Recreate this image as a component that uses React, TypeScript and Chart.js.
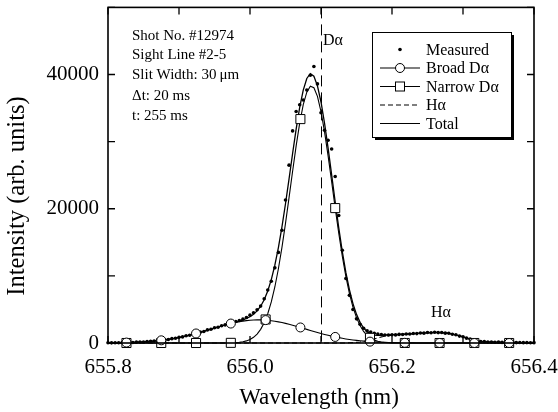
import React, { useEffect, useRef } from "react";
import { Chart, registerables } from "chart.js";

Chart.register(...registerables);

// ---------------- data ----------------
const wavelength = [
  655.800, 655.805, 655.810, 655.815, 655.820, 655.825, 655.830, 655.835, 655.840, 655.845,
  655.850, 655.855, 655.860, 655.865, 655.870, 655.875, 655.880, 655.885, 655.890, 655.895,
  655.900, 655.905, 655.910, 655.915, 655.920, 655.925, 655.930, 655.935, 655.940, 655.945,
  655.950, 655.955, 655.960, 655.965, 655.970, 655.975, 655.980, 655.985, 655.990, 655.995,
  656.000, 656.005, 656.010, 656.015, 656.020, 656.025, 656.030, 656.035, 656.040, 656.045,
  656.050, 656.055, 656.060, 656.065, 656.070, 656.075, 656.080, 656.085, 656.090, 656.095,
  656.100, 656.105, 656.110, 656.115, 656.120, 656.125, 656.130, 656.135, 656.140, 656.145,
  656.150, 656.155, 656.160, 656.165, 656.170, 656.175, 656.180, 656.185, 656.190, 656.195,
  656.200, 656.205, 656.210, 656.215, 656.220, 656.225, 656.230, 656.235, 656.240, 656.245,
  656.250, 656.255, 656.260, 656.265, 656.270, 656.275, 656.280, 656.285, 656.290, 656.295,
  656.300, 656.305, 656.310, 656.315, 656.320, 656.325, 656.330, 656.335, 656.340, 656.345,
  656.350, 656.355, 656.360, 656.365, 656.370, 656.375, 656.380, 656.385, 656.390, 656.395,
  656.400,
];

const measured = [
  30, 20, 45, 35, 60, 55, 90, 85, 130, 150,
  160, 220, 250, 300, 330, 420, 480, 530, 650, 700,
  840, 910, 1080, 1150, 1340, 1430, 1620, 1720, 1950, 2040,
  2270, 2350, 2580, 2700, 2880, 3000, 3200, 3350, 3550, 3800,
  4150, 4500, 4950, 5500, 6600, 7900, 9200, 11200, 13500, 16800,
  21300, 26500, 31600, 34500, 35500, 36200, 37700, 39900, 41200, 38600,
  34300, 31700, 30200, 28900, 24800, 19000, 13800, 9600, 7100, 5000,
  3600, 2800, 2200, 1800, 1650, 1450, 1330, 1250, 1180, 1200,
  1230, 1210, 1280, 1260, 1350, 1330, 1420, 1400, 1480, 1470,
  1560, 1530, 1600, 1550, 1560, 1470, 1450, 1300, 1220, 1030,
  940, 720, 600, 420, 350, 230, 210, 150, 160, 110,
  130, 90, 110, 70, 90, 60, 70, 50, 60, 40,
  50,
];

const broadDa = [
  20, 25, 32, 40, 50, 62, 77, 95, 116, 140,
  170, 204, 243, 289, 341, 400, 467, 542, 625, 717,
  818, 927, 1045, 1172, 1306, 1447, 1595, 1747, 1903, 2061,
  2219, 2376, 2530, 2677, 2818, 2948, 3067, 3173, 3263, 3338,
  3393, 3431, 3448, 3447, 3425, 3384, 3324, 3247, 3153, 3045,
  2923, 2790, 2648, 2499, 2345, 2188, 2029, 1871, 1716, 1565,
  1418, 1278, 1146, 1021, 904, 797, 698, 608, 526, 453,
  388, 330, 279, 235, 197, 163, 135, 111, 91, 74,
  60, 48, 38, 30, 24, 19, 15, 11, 9, 7,
  5, 4, 3, 2, 1, 1, 1, 0, 0, 0,
  0, 0, 0, 0, 0, 0, 0, 0, 0, 0,
  0, 0, 0, 0, 0, 0, 0, 0, 0, 0,
  0,
];

const narrowDa = [
  0, 0, 0, 0, 0, 0, 0, 0, 0, 0,
  0, 0, 0, 0, 0, 0, 0, 0, 0, 0,
  0, 0, 0, 0, 0, 0, 0, 0, 0, 0,
  1, 2, 4, 8, 15, 30, 57, 103, 182, 312,
  520, 843, 1329, 2031, 3018, 4360, 6120, 8345, 11060, 14240,
  17820, 21660, 25590, 29360, 32750, 35500, 37380, 38250, 38030, 36740,
  34490, 31460, 27890, 24020, 20100, 16350, 12920, 9910, 7400, 5360,
  3780, 2590, 1720, 1110, 697, 425, 252, 145, 81, 44,
  23, 12, 6, 3, 1, 0, 0, 0, 0, 0,
  0, 0, 0, 0, 0, 0, 0, 0, 0, 0,
  0, 0, 0, 0, 0, 0, 0, 0, 0, 0,
  0, 0, 0, 0, 0, 0, 0, 0, 0, 0,
  0,
];

const hAlpha = [
  0, 0, 0, 0, 0, 0, 0, 0, 0, 0,
  0, 0, 0, 0, 0, 0, 0, 0, 0, 0,
  0, 0, 0, 0, 0, 0, 0, 0, 0, 0,
  0, 0, 0, 0, 0, 0, 0, 0, 0, 0,
  0, 0, 0, 0, 0, 0, 0, 0, 0, 0,
  0, 0, 0, 0, 0, 0, 0, 0, 0, 0,
  0, 0, 0, 0, 0, 0, 0, 0, 30, 60,
  100, 160, 240, 340, 460, 600, 750, 900, 1020, 1100,
  1160, 1200, 1235, 1270, 1305, 1340, 1380, 1415, 1450, 1490,
  1530, 1555, 1570, 1565, 1540, 1495, 1430, 1330, 1200, 1060,
  920, 750, 580, 440, 330, 250, 200, 170, 150, 135,
  120, 110, 100, 90, 80, 72, 65, 58, 50, 45,
  40,
];

const total = [
  20, 25, 32, 40, 50, 62, 77, 95, 116, 140,
  170, 204, 243, 289, 341, 400, 467, 542, 625, 717,
  818, 927, 1045, 1172, 1306, 1447, 1595, 1747, 1903, 2061,
  2220, 2378, 2534, 2685, 2833, 2978, 3124, 3276, 3445, 3650,
  3913, 4274, 4777, 5478, 6443, 7744, 9444, 11592, 14213, 17285,
  20743, 24450, 28238, 31859, 35095, 37688, 39409, 40121, 39746, 38305,
  35908, 32738, 29036, 25041, 21004, 17147, 13618, 10518, 7956, 5873,
  4268, 3080, 2239, 1685, 1354, 1188, 1137, 1156, 1192, 1218,
  1243, 1260, 1279, 1303, 1329, 1359, 1395, 1426, 1459, 1497,
  1535, 1559, 1573, 1567, 1541, 1496, 1431, 1330, 1200, 1060,
  920, 750, 580, 440, 330, 250, 200, 170, 150, 135,
  120, 110, 100, 90, 80, 72, 65, 58, 50, 45,
  40,
];

const markerWavelength = [655.826, 655.875, 655.924, 655.973, 656.022, 656.071, 656.120, 656.169, 656.218, 656.267, 656.316, 656.365];
const broadMarkers = [65, 400, 1418, 2897, 3411, 2314, 904, 204, 26, 2, 0, 0];
const narrowMarkers = [0, 0, 0, 23, 3510, 33360, 20100, 767, 2, 0, 0, 0];

const xTicks = [655.8, 655.9, 656.0, 656.1, 656.2, 656.3, 656.4];
const xTickLabels = ["655.8", "", "656.0", "", "656.2", "", "656.4"];
const yTicks = [0, 10000, 20000, 30000, 40000, 50000];
const yTickLabels = ["0", "", "20000", "", "40000", ""];

const dAlphaWavelength = 656.1;
const infoLines = ["Shot No. #12974", "Sight Line #2-5", "Slit Width: 30\u2009\u03bcm", "\u0394t: 20 ms", "t: 255 ms"];
const legendLabels = ["Measured", "Broad D\u03b1", "Narrow D\u03b1", "H\u03b1", "Total"];
const dAlphaLabel = "D\u03b1";
const hAlphaLabel = "H\u03b1";
const xTitle = "Wavelength (nm)";
const yTitle = "Intensity (arb. units)";

// ---------------- drawing ----------------
const FAMILY = '"Liberation Serif", "Times New Roman", Times, serif';
const font = (s: number) => `${s}px ${FAMILY}`;

const pts = (ys: number[]) => ys.map((y, i) => ({ x: wavelength[i], y }));

const decorPlugin = {
  id: "decor",
  beforeDatasetsDraw(chart: any) {
    const { ctx, chartArea: a, scales } = chart;
    const px = Math.round(scales.x.getPixelForValue(dAlphaWavelength)) + 0.5;
    ctx.save();
    ctx.strokeStyle = "#000";
    ctx.lineWidth = 1;
    ctx.setLineDash([11, 6]);
    ctx.beginPath();
    ctx.moveTo(px, a.top);
    ctx.lineTo(px, a.bottom);
    ctx.stroke();
    ctx.restore();
  },
  afterDraw(chart: any) {
    const { ctx, chartArea: a, scales } = chart;
    ctx.save();
    ctx.strokeStyle = "#000";
    ctx.fillStyle = "#000";
    // frame
    ctx.lineWidth = 1.6;
    ctx.strokeRect(a.left, a.top, a.right - a.left, a.bottom - a.top);
    // inward ticks
    ctx.lineWidth = 1.3;
    ctx.beginPath();
    xTicks.forEach((v) => {
      const p = scales.x.getPixelForValue(v);
      ctx.moveTo(p, a.bottom);
      ctx.lineTo(p, a.bottom - 7);
      ctx.moveTo(p, a.top);
      ctx.lineTo(p, a.top + 7);
    });
    yTicks.forEach((v) => {
      const p = scales.y.getPixelForValue(v);
      ctx.moveTo(a.left, p);
      ctx.lineTo(a.left + 7, p);
      ctx.moveTo(a.right, p);
      ctx.lineTo(a.right - 7, p);
    });
    ctx.stroke();

    // info text
    ctx.font = font(15);
    ctx.textAlign = "left";
    ctx.textBaseline = "alphabetic";
    const baselines = [39.5, 58.5, 78.5, 100, 119.5];
    infoLines.forEach((t, i) => ctx.fillText(t, a.left + 24, baselines[i]));

    // line labels
    ctx.font = font(16);
    ctx.fillText(dAlphaLabel, scales.x.getPixelForValue(dAlphaWavelength) + 2, 45);
    ctx.fillText(hAlphaLabel, 431, 317);

    // legend
    const L = 372, T = 32, R = 511, B = 137;
    ctx.fillRect(L + 3, T + 3, R - L, B - T);
    ctx.fillStyle = "#fff";
    ctx.fillRect(L, T, R - L, B - T);
    ctx.fillStyle = "#000";
    ctx.lineWidth = 1;
    ctx.strokeRect(L + 0.5, T + 0.5, R - L, B - T);
    const rows = [49.5, 68, 86.5, 105, 123.5];
    const x0 = 380, x1 = 420, xm = 400;
    ctx.font = font(16);
    ctx.textBaseline = "middle";
    legendLabels.forEach((t, i) => {
      const y = rows[i];
      ctx.fillStyle = "#000";
      ctx.fillText(t, 426, y + 1);
      ctx.lineWidth = 1.2;
      if (i === 0) {
        ctx.beginPath();
        ctx.arc(xm, y, 1.8, 0, Math.PI * 2);
        ctx.fill();
        return;
      }
      ctx.setLineDash(i === 3 ? [5, 3] : []);
      ctx.beginPath();
      ctx.moveTo(x0, y);
      ctx.lineTo(x1, y);
      ctx.stroke();
      ctx.setLineDash([]);
      if (i === 1) {
        ctx.beginPath();
        ctx.arc(xm, y, 4.5, 0, Math.PI * 2);
        ctx.fillStyle = "#fff";
        ctx.fill();
        ctx.lineWidth = 1;
        ctx.stroke();
      }
      if (i === 2) {
        ctx.fillStyle = "#fff";
        ctx.fillRect(xm - 4.5, y - 4.5, 9, 9);
        ctx.lineWidth = 1;
        ctx.strokeRect(xm - 4.5, y - 4.5, 9, 9);
      }
    });

    // axis titles
    ctx.fillStyle = "#000";
    ctx.textAlign = "center";
    ctx.textBaseline = "alphabetic";
    ctx.font = font(23);
    ctx.fillText(xTitle, (a.left + a.right) / 2 - 2, 404);
    ctx.save();
    ctx.font = font(24.5);
    ctx.translate(18, 196);
    ctx.rotate(-Math.PI / 2);
    ctx.textBaseline = "middle";
    ctx.fillText(yTitle, 0, 0);
    ctx.restore();

    ctx.restore();
  },
};

export default function App() {
  const ref = useRef<HTMLCanvasElement | null>(null);

  useEffect(() => {
    if (!ref.current) return;
    const lineDs = (label: string, ys: number[], dash: number[] = [], width = 1.1) => ({
      label,
      data: pts(ys),
      borderColor: "#000",
      borderWidth: width,
      borderDash: dash,
      pointRadius: 0,
      tension: 0,
      fill: false,
      clip: false,
      order: 2,
    });
    const chart = new Chart(ref.current, {
      type: "line",
      data: {
        datasets: [
          lineDs("Broad D\u03b1", broadDa),
          lineDs("Narrow D\u03b1", narrowDa),
          lineDs("H\u03b1", hAlpha, [5, 3]),
          lineDs("Total", total, [], 1.3),
          {
            label: "Measured",
            data: pts(measured),
            showLine: false,
            pointRadius: 1.8,
            pointBackgroundColor: "#000",
            pointBorderWidth: 0,
            borderColor: "#000",
            clip: false,
            order: 1,
          },
          {
            label: "Broad markers",
            data: markerWavelength.map((x, i) => ({ x, y: broadMarkers[i] })),
            showLine: false,
            pointStyle: "circle",
            pointRadius: 4.5,
            pointBackgroundColor: "#fff",
            pointBorderColor: "#000",
            pointBorderWidth: 1,
            clip: false,
            order: 0,
          },
          {
            label: "Narrow markers",
            data: markerWavelength.map((x, i) => ({ x, y: narrowMarkers[i] })),
            showLine: false,
            pointStyle: "rect",
            pointRadius: 6.4,
            pointBackgroundColor: "#fff",
            pointBorderColor: "#000",
            pointBorderWidth: 1,
            clip: false,
            order: 0,
          },
        ] as any,
      },
      options: {
        animation: false,
        responsive: false,
        events: [],
        layout: { padding: { top: 4, right: 24, left: 0, bottom: 0 } },
        plugins: { legend: { display: false }, tooltip: { enabled: false } },
        scales: {
          x: {
            type: "linear",
            min: 655.8,
            max: 656.4,
            grid: { display: false },
            border: { display: false },
            afterBuildTicks: (s: any) => {
              s.ticks = xTicks.map((v) => ({ value: v }));
            },
            afterFit: (s: any) => {
              s.height = 69;
              s.paddingLeft = 0;
              s.paddingRight = 0;
            },
            ticks: {
              autoSkip: false,
              maxRotation: 0,
              padding: 4,
              color: "#000",
              font: { family: FAMILY, size: 21 },
              callback: (_v: any, i: number) => xTickLabels[i],
            },
          },
          y: {
            type: "linear",
            min: 0,
            max: 50000,
            grid: { display: false },
            border: { display: false },
            afterBuildTicks: (s: any) => {
              s.ticks = yTicks.map((v) => ({ value: v }));
            },
            afterFit: (s: any) => {
              s.width = 108;
              s.paddingTop = 0;
              s.paddingBottom = 0;
            },
            ticks: {
              autoSkip: false,
              padding: 1,
              color: "#000",
              font: { family: FAMILY, size: 21 },
              callback: (_v: any, i: number) => yTickLabels[i],
            },
          },
        },
      } as any,
      plugins: [decorPlugin],
    });
    return () => chart.destroy();
  }, []);

  return (
    <div style={{ position: "fixed", left: 0, top: 0, width: 558, height: 412, background: "#fff" }}>
      <canvas ref={ref} width={558} height={412} style={{ display: "block" }} />
    </div>
  );
}
